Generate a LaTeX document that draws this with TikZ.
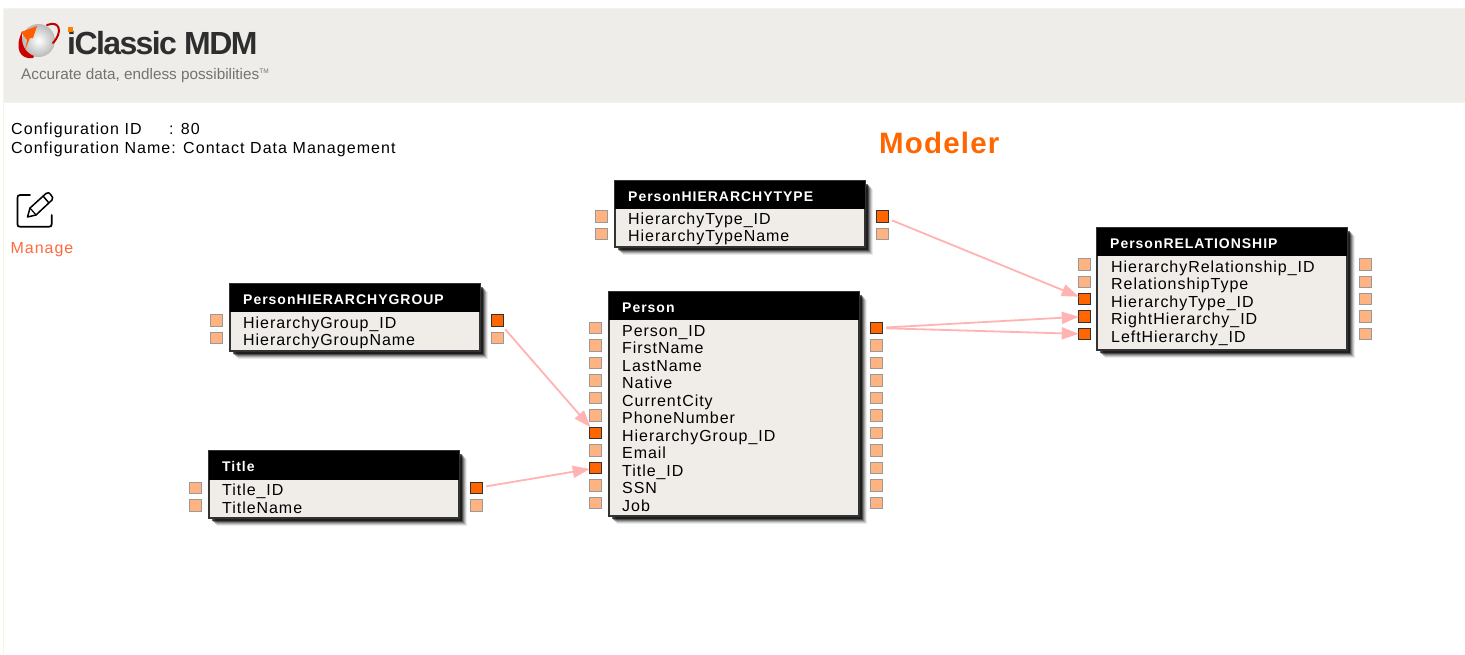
\documentclass[tikz,border=0pt]{standalone}
\usepackage{fontspec}
\setmainfont{Liberation Sans}
\newfontfamily\spaced[LetterSpace=6]{Liberation Sans}
\newfontfamily\spacedinfo[LetterSpace=6.6]{Liberation Sans}
\newfontfamily\spacedb[LetterSpace=7]{Liberation Sans Bold}
\newfontfamily\modelerb[LetterSpace=4]{Liberation Sans Bold}
\newfontfamily\logob[LetterSpace=-5]{Liberation Sans Bold}
\usetikzlibrary{arrows.meta}
\definecolor{band}{HTML}{EEEDE9}
\definecolor{edgecream}{HTML}{F5F5E6}
\definecolor{bodyc}{HTML}{F0EDE9}
\definecolor{orangehot}{HTML}{FF6600}
\definecolor{orangecold}{HTML}{FFB380}
\definecolor{pinkline}{HTML}{FFB3B3}
\definecolor{manage}{HTML}{FF6A40}
\tikzset{
  x=1pt,y=1pt,
  port/.style={draw=gray!80,line width=1pt,fill=orangecold,minimum size=11.5pt,inner sep=0pt,outer sep=0pt,anchor=center},
  hot/.style={port,draw=black!80,fill=orangehot},
  fieldtxt/.style={anchor=base west,inner sep=0pt,font=\fontsize{16}{16}\spaced,text=black},
  titletxt/.style={anchor=base west,inner sep=0pt,font=\fontsize{14}{14}\spacedb,text=white},
  link/.style={draw=pinkline,line width=1.8pt,shorten <=4pt,-{Triangle[length=17pt,width=12pt]}},
  info/.style={anchor=base west,inner sep=0pt,font=\fontsize{16}{16}\spacedinfo,text=black},
}
% #1 name, #2 title, #3 x1, #4 y1, #5 x2, #6 y header bottom, #7 y2
\newcommand{\ebox}[7]{%
  \foreach \o/\c in {8/08,7/12,6/18,5/25,4/40,3/60}{
    \fill[black,opacity=0.\c] ({#3+\o},{-(#4+\o)}) rectangle ({#5+\o},{-(#7+\o)});
  }
  \fill[bodyc] (#3,-#6) rectangle (#5,-#7);
  \draw[black!80,line width=1.2pt] (#3,-#4) rectangle (#5,-#7);
  \node[fill=black,minimum width={(#5-#3)*1pt},minimum height={(#6-#4)*1pt},inner sep=0pt,outer sep=0pt,anchor=north west] (#1) at (#3,-#4) {};
  \node[titletxt] (#1title) at ({#3+13},{-((#4+#6)/2+6)}) {#2};
}
% #1 node, #2 text, #3 text x, #4 text center y
\newcommand{\efield}[4]{\node[fieldtxt] (#1) at (#3,{-(#4+5.5)}) {#2};}
\begin{document}
\begin{tikzpicture}
\useasboundingbox (0,0) rectangle (1465,-654);
\fill[white] (0,0) rectangle (1465,-654);
% page frame and band
\fill[edgecream] (3,-8) rectangle (1465,-103);
\fill[band] (4,-9) rectangle (1465,-102);
\draw[edgecream,line width=1pt] (3.5,-102) -- (3.5,-654);
% logo
\shade[inner color=white,outer color=gray!55] (38.5,-40.5) circle (16.5);
\draw[red!75!black,line width=2pt,line cap=round] (47,-25) .. controls (60,-20) and (63,-32) .. (53,-43);
\fill[red!80!black] (33,-58) .. controls (20,-60) and (14,-48) .. (22,-32) .. controls (21,-44) and (24,-52) .. (34,-56) -- cycle;
\fill[orangehot!90!red] (25,-50) -- (27,-40) -- (21,-32) -- (37,-26) -- (33,-38) -- (30,-38) -- cycle;
\node[anchor=base west,inner sep=0pt,font=\fontsize{32}{32}\logob,text=black!82] (logoname) at (67,-54) {iClassic MDM};
\fill[orange] (68,-27) rectangle (73,-32);
\node[anchor=base west,inner sep=0pt,font=\fontsize{15.3}{15.3}\selectfont,text=black!55] (logotag) at (21,-79) {Accurate data, endless possibilities\raisebox{6pt}{\fontsize{6.5}{6.5}\selectfont TM}};
% configuration
\node[info] (cfgid) at (11,-134) {Configuration ID};
\node[info] (cfgidv) at (169,-134) {: 80};
\node[info] (cfgname) at (11,-153) {Configuration Name: Contact Data Management};
\node[anchor=base west,inner sep=0pt,font=\fontsize{29.5}{29.5}\modelerb,text=orangehot] (modeler) at (879,-153) {Modeler};
% manage icon
\draw[black,line width=1.7pt,line cap=round,line join=round] (30,-195) -- (20,-195) .. controls (18,-195) and (17.5,-196) .. (17.5,-198) -- (17.5,-224) .. controls (17.5,-226) and (18,-226.7) .. (20,-226.7) -- (49,-226.7) .. controls (51,-226.7) and (51.7,-226) .. (51.7,-224) -- (51.7,-215);
\draw[black,line width=1.5pt,line join=round] (27.5,-217) -- (30,-208) -- (46,-193.5) .. controls (48,-192) and (49,-192.5) .. (51,-195) .. controls (53,-197) and (53,-198) .. (52,-200) -- (36,-215) -- cycle;
\draw[black,line width=1.5pt] (43,-196) -- (49,-203);
\draw[black,line width=1.2pt] (30,-208) -- (36,-215);
\node[anchor=base west,inner sep=0pt,font=\fontsize{16}{16}\spaced,text=manage] (managelbl) at (10.5,-253) {Manage};
% PersonHIERARCHYTYPE
\ebox{ht}{PersonHIERARCHYTYPE}{615}{181}{865}{209}{247}
\efield{htf1}{HierarchyType\_ID}{628}{218.5}
\efield{htf2}{HierarchyTypeName}{628}{236}
\node[port] (htL1) at (601.5,-216.5) {};
\node[port] (htL2) at (601.5,-234) {};
\node[hot] (htR1) at (882.5,-216.5) {};
\node[port] (htR2) at (882.5,-234) {};
% PersonHIERARCHYGROUP
\ebox{hg}{PersonHIERARCHYGROUP}{230}{284}{480}{312}{351}
\efield{hgf1}{HierarchyGroup\_ID}{243}{322.5}
\efield{hgf2}{HierarchyGroupName}{243}{340}
\node[port] (hgL1) at (216.5,-320.5) {};
\node[port] (hgL2) at (216.5,-338) {};
\node[hot] (hgR1) at (497.5,-320.5) {};
\node[port] (hgR2) at (497.5,-338) {};
% Title
\ebox{tt}{Title}{209}{451}{459}{480}{518}
\efield{ttf1}{Title\_ID}{222}{490}
\efield{ttf2}{TitleName}{222}{507.5}
\node[port] (ttL1) at (195.5,-488) {};
\node[port] (ttL2) at (195.5,-505.5) {};
\node[hot] (ttR1) at (476.5,-488) {};
\node[port] (ttR2) at (476.5,-505.5) {};
% Person
\ebox{pp}{Person}{609}{292}{859}{320}{516}
\efield{ppf1}{Person\_ID}{622}{330.5}
\efield{ppf2}{FirstName}{622}{348}
\efield{ppf3}{LastName}{622}{365.5}
\efield{ppf4}{Native}{622}{383}
\efield{ppf5}{CurrentCity}{622}{400.5}
\efield{ppf6}{PhoneNumber}{622}{418}
\efield{ppf7}{HierarchyGroup\_ID}{622}{435.5}
\efield{ppf8}{Email}{622}{453}
\efield{ppf9}{Title\_ID}{622}{470.5}
\efield{ppf10}{SSN}{622}{488}
\efield{ppf11}{Job}{622}{505.5}
\node[port] (ppL1) at (595.5,-328) {};
\node[port] (ppL2) at (595.5,-345.5) {};
\node[port] (ppL3) at (595.5,-363) {};
\node[port] (ppL4) at (595.5,-380.5) {};
\node[port] (ppL5) at (595.5,-398) {};
\node[port] (ppL6) at (595.5,-415.5) {};
\node[hot]  (ppL7) at (595.5,-433) {};
\node[port] (ppL8) at (595.5,-450.5) {};
\node[hot]  (ppL9) at (595.5,-468) {};
\node[port] (ppL10) at (595.5,-485.5) {};
\node[port] (ppL11) at (595.5,-503) {};
\node[hot]  (ppR1) at (876.5,-328) {};
\node[port] (ppR2) at (876.5,-345.5) {};
\node[port] (ppR3) at (876.5,-363) {};
\node[port] (ppR4) at (876.5,-380.5) {};
\node[port] (ppR5) at (876.5,-398) {};
\node[port] (ppR6) at (876.5,-415.5) {};
\node[port] (ppR7) at (876.5,-433) {};
\node[port] (ppR8) at (876.5,-450.5) {};
\node[port] (ppR9) at (876.5,-468) {};
\node[port] (ppR10) at (876.5,-485.5) {};
\node[port] (ppR11) at (876.5,-503) {};
% PersonRELATIONSHIP
\ebox{rl}{PersonRELATIONSHIP}{1097}{228}{1347}{256}{350}
\efield{rlf1}{HierarchyRelationship\_ID}{1111}{267}
\efield{rlf2}{RelationshipType}{1111}{284}
\efield{rlf3}{HierarchyType\_ID}{1111}{301.5}
\efield{rlf4}{RightHierarchy\_ID}{1111}{319}
\efield{rlf5}{LeftHierarchy\_ID}{1111}{336.5}
\node[port] (rlL1) at (1084.5,-264.5) {};
\node[port] (rlL2) at (1084.5,-282) {};
\node[hot]  (rlL3) at (1084.5,-299) {};
\node[hot]  (rlL4) at (1084.5,-316.5) {};
\node[hot]  (rlL5) at (1084.5,-334) {};
\node[port] (rlR1) at (1365.5,-264.5) {};
\node[port] (rlR2) at (1365.5,-282) {};
\node[port] (rlR3) at (1365.5,-299) {};
\node[port] (rlR4) at (1365.5,-316.5) {};
\node[port] (rlR5) at (1365.5,-334) {};
% connectors
\draw[link] (htR1) -- (rlL3);
\draw[link] (ppR1) -- (rlL4);
\draw[link] (ppR1) -- (rlL5);
\draw[link] (hgR1) -- (ppL7);
\draw[link] (ttR1) -- (ppL9);
\end{tikzpicture}
\end{document}
